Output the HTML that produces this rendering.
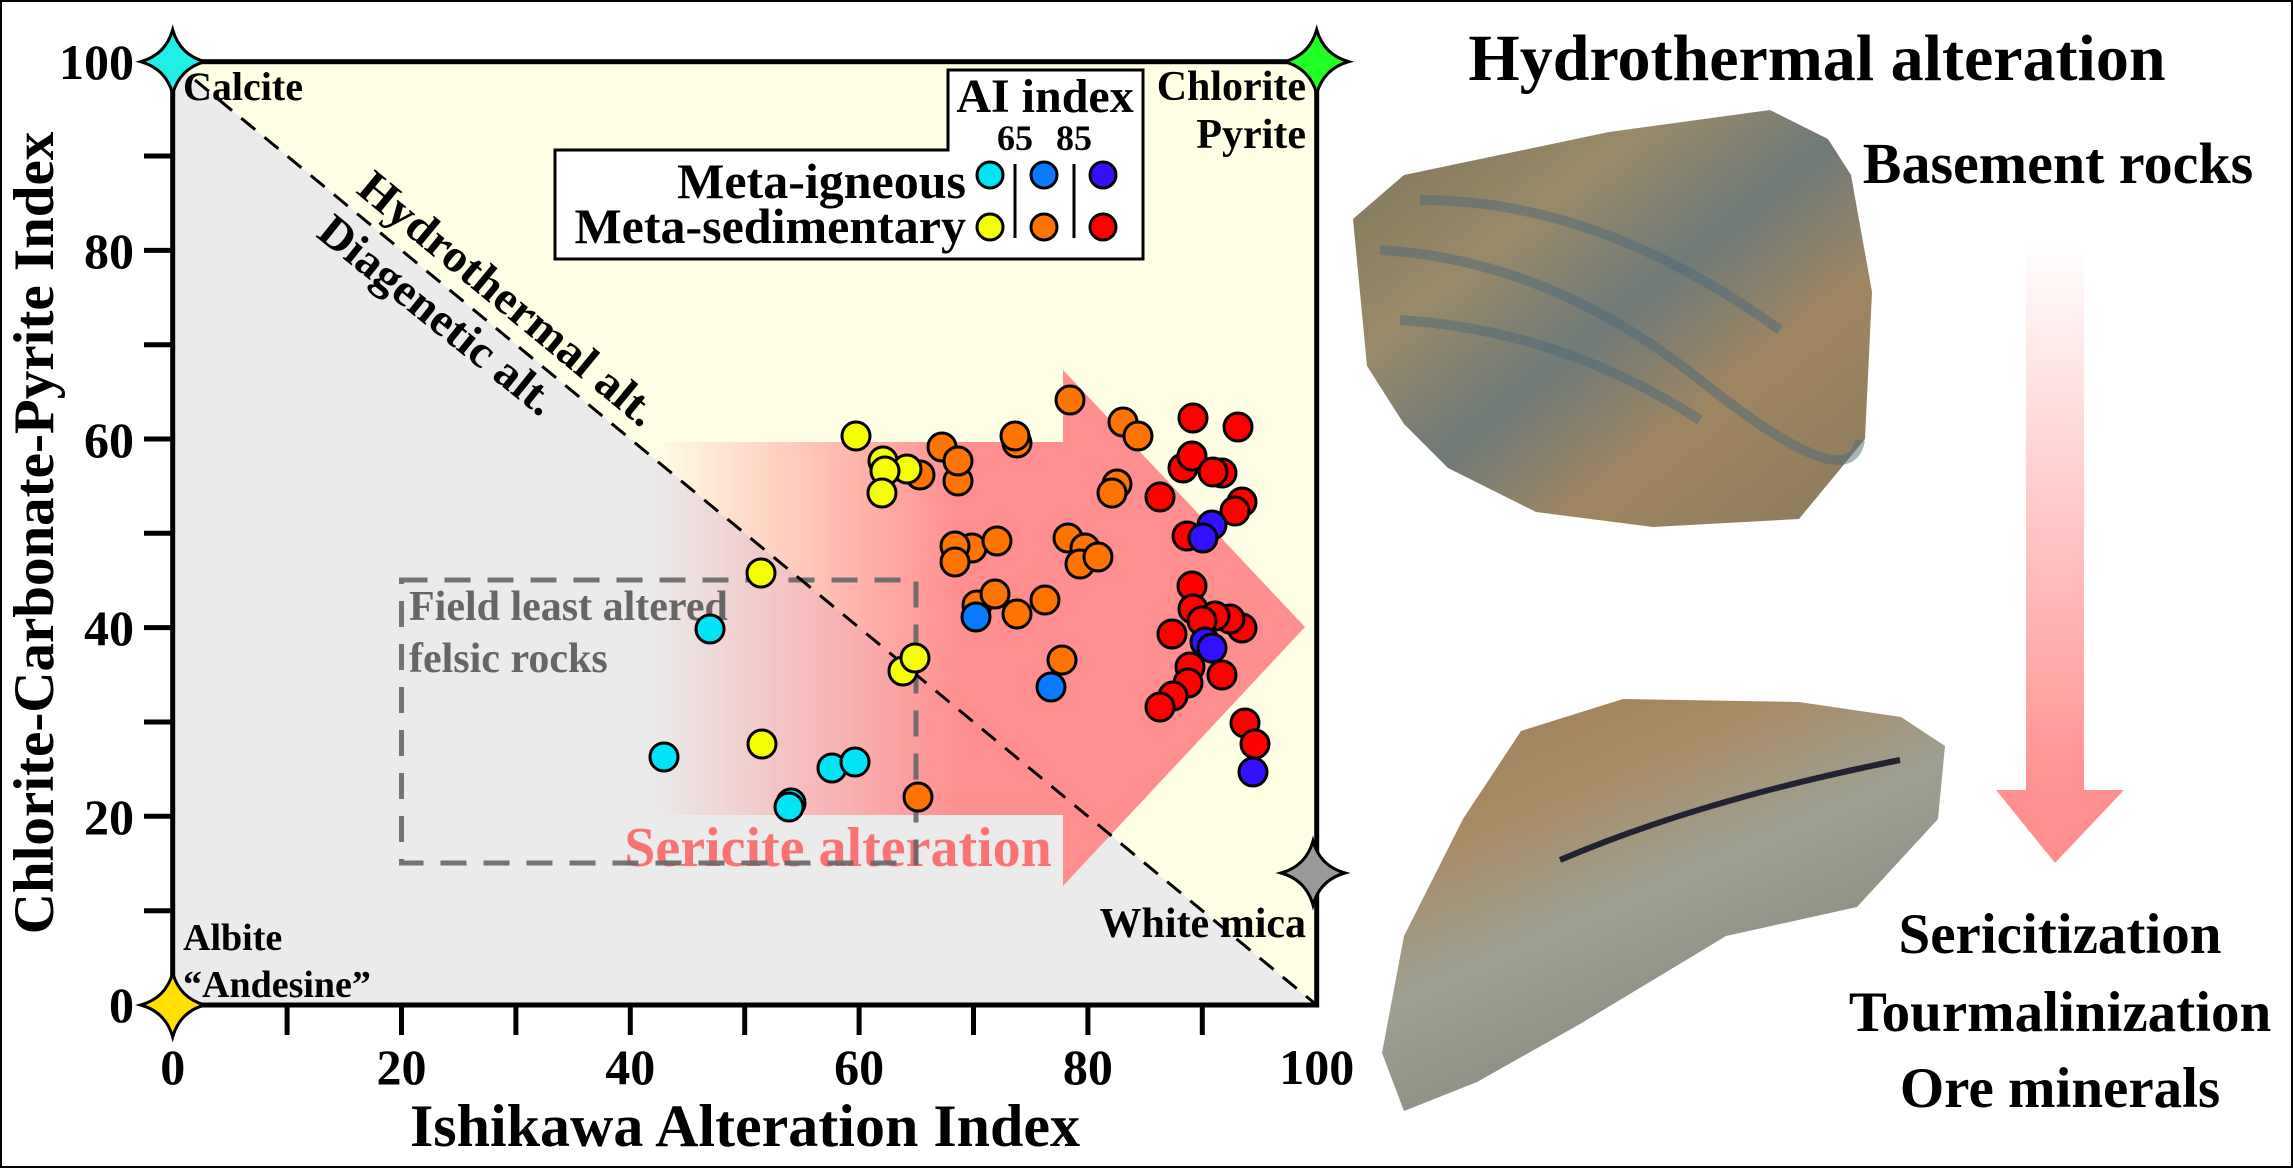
<!DOCTYPE html>
<html><head><meta charset="utf-8"><style>
html,body{margin:0;padding:0;background:#fff}
svg{display:block}
text{font-family:"Liberation Serif",serif;font-weight:bold}
</style></head><body>
<svg width="2293" height="1168" viewBox="0 0 2293 1168" xmlns="http://www.w3.org/2000/svg">
<defs>
<linearGradient id="ag" x1="650" y1="0" x2="960" y2="0" gradientUnits="userSpaceOnUse">
<stop offset="0" stop-color="#ff8f8f" stop-opacity="0"/><stop offset="1" stop-color="#ff8f8f" stop-opacity="1"/></linearGradient>
<linearGradient id="vg" x1="0" y1="240" x2="0" y2="800" gradientUnits="userSpaceOnUse">
<stop offset="0" stop-color="#ff8f8f" stop-opacity="0"/><stop offset="1" stop-color="#ff8f8f" stop-opacity="1"/></linearGradient>
<linearGradient id="r1" x1="0" y1="0" x2="1" y2="1">
<stop offset="0" stop-color="#7b7458"/><stop offset="0.3" stop-color="#9a8a68"/><stop offset="0.5" stop-color="#6f7a78"/><stop offset="0.7" stop-color="#a08660"/><stop offset="1" stop-color="#8a7a5c"/></linearGradient>
<linearGradient id="r2" x1="0" y1="0" x2="0.6" y2="1">
<stop offset="0" stop-color="#9a7d5a"/><stop offset="0.3" stop-color="#a98a62"/><stop offset="0.55" stop-color="#9da092"/><stop offset="1" stop-color="#7d8478"/></linearGradient>
</defs>
<rect x="1" y="1" width="2291" height="1166" fill="#fff" stroke="#000" stroke-width="2"/>
<rect x="172.7" y="61.7" width="1144" height="943.3" fill="#ffffe6"/>
<polygon points="172.7,61.7 172.7,1005 1316.7,1005" fill="#ebebeb"/>
<polygon points="650,442 1063,442 1063,370 1305,627 1063,886 1063,815 650,815" fill="url(#ag)"/>
<text x="838" y="866" font-size="56" fill="#f87474" text-anchor="middle">Sericite alteration</text>
<path d="M401.5,580 L916,580 L916,863 L401.5,863 Z" fill="none" stroke="#666" stroke-width="5" stroke-dasharray="26,17" opacity="0.9"/>
<text x="409" y="620" font-size="42" fill="#666">Field least altered</text>
<text x="409" y="672" font-size="42" fill="#666">felsic rocks</text>
<line x1="195" y1="80" x2="1316.7" y2="1005" stroke="#000" stroke-width="3" stroke-dasharray="18,12"/>
<text transform="translate(355,192) rotate(39.5)" font-size="46" textLength="372" lengthAdjust="spacingAndGlyphs">Hydrothermal alt.</text>
<text transform="translate(315,236) rotate(38.8)" font-size="46" textLength="290" lengthAdjust="spacingAndGlyphs">Diagenetic alt.</text>
<g stroke="#000" stroke-width="3">
<g fill="#00e5f5">
<circle cx="664" cy="757" r="14"/><circle cx="710" cy="629" r="14"/><circle cx="832" cy="768" r="14"/><circle cx="855" cy="762" r="14"/><circle cx="791" cy="803" r="14"/><circle cx="789" cy="807" r="14"/>
</g>
<g fill="#f5ff00">
<circle cx="761" cy="573" r="14"/><circle cx="762" cy="744" r="14"/><circle cx="856" cy="436" r="14"/>
</g>
<g fill="#ff7300">
<circle cx="1070" cy="400" r="14"/><circle cx="1123" cy="422" r="14"/><circle cx="1138" cy="436" r="14"/>
<circle cx="1017" cy="443" r="14"/><circle cx="1015" cy="436" r="14"/>
<circle cx="942" cy="447" r="14"/><circle cx="958" cy="481" r="14"/><circle cx="958" cy="461" r="14"/><circle cx="920" cy="475" r="14"/>
<circle cx="1117" cy="484" r="14"/><circle cx="1112" cy="493" r="14"/>
<circle cx="972" cy="548" r="14"/><circle cx="997" cy="541" r="14"/><circle cx="955" cy="546" r="14"/><circle cx="955" cy="562" r="14"/>
<circle cx="1068" cy="538" r="14"/><circle cx="1085" cy="548" r="14"/><circle cx="1080" cy="564" r="14"/><circle cx="1098" cy="557" r="14"/>
<circle cx="977" cy="605" r="14"/><circle cx="995" cy="594" r="14"/><circle cx="1017" cy="614" r="14"/><circle cx="1045" cy="600" r="14"/>
<circle cx="1062" cy="660" r="14"/><circle cx="918" cy="797" r="14"/>
</g>
<g fill="#f5ff00">
<circle cx="883" cy="461" r="14"/><circle cx="907" cy="469" r="14"/><circle cx="885" cy="471" r="14"/><circle cx="882" cy="493" r="14"/>
<circle cx="903" cy="671" r="14"/><circle cx="915" cy="658" r="14"/>
</g>
<g fill="#0a7aff"><circle cx="976" cy="617" r="14"/><circle cx="1051" cy="687" r="14"/></g>
<g fill="#ff0000">
<circle cx="1193" cy="418" r="14"/><circle cx="1238" cy="427" r="14"/>
<circle cx="1183" cy="468" r="14"/><circle cx="1192" cy="456" r="14"/><circle cx="1222" cy="473" r="14"/><circle cx="1213" cy="472" r="14"/>
<circle cx="1160" cy="497" r="14"/><circle cx="1242" cy="502" r="14"/><circle cx="1235" cy="511" r="14"/>
<circle cx="1187" cy="536" r="14"/>
<circle cx="1192" cy="586" r="14"/><circle cx="1193" cy="609" r="14"/><circle cx="1242" cy="628" r="14"/><circle cx="1230" cy="619" r="14"/><circle cx="1215" cy="616" r="14"/><circle cx="1172" cy="634" r="14"/><circle cx="1202" cy="621" r="14"/>
<circle cx="1222" cy="675" r="14"/><circle cx="1190" cy="667" r="14"/><circle cx="1188" cy="683" r="14"/><circle cx="1173" cy="696" r="14"/><circle cx="1160" cy="707" r="14"/>
<circle cx="1245" cy="723" r="14"/><circle cx="1255" cy="744" r="14"/>
</g>
<g fill="#3311ff">
<circle cx="1212" cy="525" r="14"/><circle cx="1203" cy="538" r="14"/><circle cx="1205" cy="642" r="14"/><circle cx="1212" cy="648" r="14"/><circle cx="1253" cy="772" r="14"/>
</g>
</g>
<polygon points="948,70 1143,70 1143,259 555,259 555,150 948,150" fill="#fff" stroke="#000" stroke-width="3"/>
<text x="1045" y="112" font-size="48" text-anchor="middle">AI index</text>
<text x="1015" y="150" font-size="36" text-anchor="middle">65</text>
<text x="1074" y="150" font-size="36" text-anchor="middle">85</text>
<text x="966" y="198" font-size="50" text-anchor="end">Meta-igneous</text>
<text x="966" y="243" font-size="50" text-anchor="end">Meta-sedimentary</text>
<line x1="1015" y1="164" x2="1015" y2="238" stroke="#000" stroke-width="3"/>
<line x1="1074" y1="164" x2="1074" y2="238" stroke="#000" stroke-width="3"/>
<g stroke="#000" stroke-width="3">
<circle cx="990" cy="175" r="13" fill="#00e5f5"/><circle cx="1044" cy="175" r="13" fill="#0a7aff"/><circle cx="1103" cy="175" r="13" fill="#3311ff"/>
<circle cx="990" cy="227" r="13" fill="#f5ff00"/><circle cx="1044" cy="227" r="13" fill="#ff7300"/><circle cx="1103" cy="227" r="13" fill="#ff0000"/>
</g>
<text x="183" y="100" font-size="40">Calcite</text>
<text x="1306" y="100" font-size="42" text-anchor="end">Chlorite</text>
<text x="1306" y="148" font-size="42" text-anchor="end">Pyrite</text>
<text x="183" y="950" font-size="38">Albite</text>
<text x="183" y="997" font-size="38">“Andesine”</text>
<text x="1306" y="937" font-size="42" text-anchor="end">White mica</text>
<rect x="172.7" y="61.7" width="1144" height="943.3" fill="none" stroke="#000" stroke-width="5"/>
<g stroke="#000" stroke-width="5">
<line x1="144" y1="910.7" x2="172" y2="910.7"/><line x1="144" y1="816.3" x2="172" y2="816.3"/><line x1="144" y1="722" x2="172" y2="722"/><line x1="144" y1="627.6" x2="172" y2="627.6"/><line x1="144" y1="533.3" x2="172" y2="533.3"/><line x1="144" y1="439" x2="172" y2="439"/><line x1="144" y1="344.7" x2="172" y2="344.7"/><line x1="144" y1="250.4" x2="172" y2="250.4"/><line x1="144" y1="156" x2="172" y2="156"/>
<line x1="287.1" y1="1005" x2="287.1" y2="1035"/><line x1="401.5" y1="1005" x2="401.5" y2="1035"/><line x1="515.9" y1="1005" x2="515.9" y2="1035"/><line x1="630.3" y1="1005" x2="630.3" y2="1035"/><line x1="744.7" y1="1005" x2="744.7" y2="1035"/><line x1="859.1" y1="1005" x2="859.1" y2="1035"/><line x1="973.5" y1="1005" x2="973.5" y2="1035"/><line x1="1087.9" y1="1005" x2="1087.9" y2="1035"/><line x1="1202.3" y1="1005" x2="1202.3" y2="1035"/>
</g>
<g font-size="50" text-anchor="end">
<text x="134" y="79">100</text><text x="134" y="268">80</text><text x="134" y="457">60</text><text x="134" y="645">40</text><text x="134" y="834">20</text><text x="134" y="1022">0</text>
</g>
<g font-size="50" text-anchor="middle">
<text x="172.7" y="1084">0</text><text x="401.5" y="1084">20</text><text x="630.3" y="1084">40</text><text x="859.1" y="1084">60</text><text x="1087.9" y="1084">80</text><text x="1316.7" y="1084">100</text>
</g>
<text x="745" y="1146" font-size="60" text-anchor="middle">Ishikawa Alteration Index</text>
<text transform="translate(53,533) rotate(-90)" font-size="57" text-anchor="middle">Chlorite-Carbonate-Pyrite Index</text>
<g stroke="#000" stroke-width="3">
<path d="M172.7,29.7 Q179.7,54.7 204.7,61.7 Q179.7,68.7 172.7,93.7 Q165.7,68.7 140.7,61.7 Q165.7,54.7 172.7,29.7Z" fill="#22eee8"/>
<path d="M1316.7,29.7 Q1323.7,54.7 1348.7,61.7 Q1323.7,68.7 1316.7,93.7 Q1309.7,68.7 1284.7,61.7 Q1309.7,54.7 1316.7,29.7Z" fill="#22ff22"/>
<path d="M172.7,973 Q179.7,998 204.7,1005 Q179.7,1012 172.7,1037 Q165.7,1012 140.7,1005 Q165.7,998 172.7,973Z" fill="#ffe000"/>
<path d="M1313,841 Q1320,866 1345,873 Q1320,880 1313,905 Q1306,880 1281,873 Q1306,866 1313,841Z" fill="#999"/>
</g>
<text x="1817" y="80" font-size="66" text-anchor="middle">Hydrothermal alteration</text>
<text x="2058" y="183" font-size="58" text-anchor="middle">Basement rocks</text>
<polygon points="2026,241 2084,241 2084,790 2124,790 2055,863 1996,790 2026,790" fill="url(#vg)"/>
<text x="2060" y="953" font-size="57" text-anchor="middle">Sericitization</text>
<text x="2060" y="1031" font-size="57" text-anchor="middle">Tourmalinization</text>
<text x="2060" y="1107" font-size="57" text-anchor="middle">Ore minerals</text>
<polygon points="1353,219 1404,175 1609,132 1770,110 1828,139 1851,175 1872,292 1865,439 1799,519 1653,527 1536,512 1448,468 1404,424 1367,366" fill="url(#r1)"/>
<g stroke="#4f6a78" stroke-width="10" opacity="0.5" fill="none">
<path d="M1380,250 Q1550,260 1700,380 T1860,440"/><path d="M1400,320 Q1560,330 1700,420"/><path d="M1420,200 Q1600,200 1780,330"/>
</g>
<polygon points="1404,936 1463,819 1521,731 1623,699 1799,702 1901,717 1945,746 1938,819 1857,907 1726,936 1580,1024 1477,1082 1404,1111 1382,1053" fill="url(#r2)"/>
<path d="M1560,860 Q1700,800 1900,760" stroke="#223" stroke-width="6" fill="none"/>
</svg>
</body></html>
